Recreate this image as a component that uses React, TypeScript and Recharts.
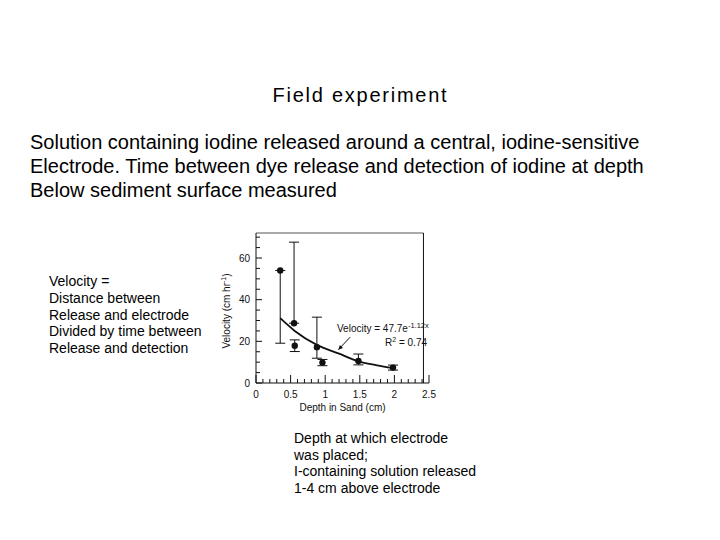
import React from "react";
import {
  ComposedChart,
  Scatter,
  Line,
  ErrorBar,
  XAxis,
  YAxis,
  ReferenceLine,
  Label,
} from "recharts";

const DEPTH = [0.35, 0.55, 0.56, 0.88, 0.96, 1.48, 1.98];
const VELOCITY = [54.0, 28.7, 17.9, 17.2, 9.8, 10.6, 7.4];
const ERR_LOW = [34.9, 0, 2.8, 5.3, 1.5, 1.9, 1.2];
const ERR_HIGH = [0, 38.9, 2.8, 14.4, 1.5, 3.3, 1.2];

// fitted curve
const FIT_DEPTH = [0.35, 0.56, 0.88, 1.19, 1.48, 1.75, 1.98];
const FIT_VELOCITY = [31.1, 25.0, 18.3, 14.2, 10.4, 8.5, 7.1];

const X_LABELS = [0, 0.5, 1, 1.5, 2, 2.5];
const Y_LABELS = [0, 20, 40, 60];
const X_TICKS = Array.from({ length: 26 }, (_, i) => i / 10);
const Y_TICKS = Array.from({ length: 15 }, (_, i) => i * 5);

const INK = "#111";
const FONT = '"Liberation Sans", Arial, Helvetica, sans-serif';

const points = DEPTH.map((x, i) => ({
  x,
  y: VELOCITY[i],
  err: [ERR_LOW[i], ERR_HIGH[i]],
}));
const fit = FIT_DEPTH.map((x, i) => ({ x, y: FIT_VELOCITY[i] }));

function XTick({ x, y, payload }: any) {
  const v = payload.value;
  const major = Math.round(v * 10) % 5 === 0;
  const showLabel = X_LABELS.some((l) => Math.abs(l - v) < 1e-6);
  return (
    <g>
      <line x1={x} x2={x} y1={y} y2={y - (major ? 8 : 4)} stroke={INK} />
      {showLabel && (
        <text x={x} y={y + 14.5} textAnchor="middle" fontSize={10} fill={INK} fontFamily={FONT}>
          {String(Math.round(v * 10) / 10)}
        </text>
      )}
    </g>
  );
}

function YTick({ x, y, payload }: any) {
  const v = payload.value;
  const showLabel = Y_LABELS.includes(v);
  return (
    <g>
      <line x1={x} x2={x + (showLabel ? 6 : 4)} y1={y} y2={y} stroke={INK} />
      {showLabel && (
        <text x={x - 6} y={y + 3.5} textAnchor="end" fontSize={10} fill={INK} fontFamily={FONT}>
          {v}
        </text>
      )}
    </g>
  );
}

function Arrow({ x1, y1, x2, y2 }: any) {
  if (x1 == null) return null;
  const a = Math.atan2(y2 - y1, x2 - x1);
  const len = 5;
  const p1 = [x2 - len * Math.cos(a - 0.45), y2 - len * Math.sin(a - 0.45)];
  const p2 = [x2 - len * Math.cos(a + 0.45), y2 - len * Math.sin(a + 0.45)];
  return (
    <g>
      <line x1={x1} y1={y1} x2={x2} y2={y2} stroke={INK} strokeWidth={1} />
      <polygon points={`${x2},${y2} ${p1[0]},${p1[1]} ${p2[0]},${p2[1]}`} fill={INK} />
    </g>
  );
}

function Dot({ cx, cy }: any) {
  return <circle cx={cx} cy={cy} r={3.2} fill={INK} />;
}

function Chart() {
  return (
    <ComposedChart
      width={241}
      height={204}
      margin={{ top: 12, right: 12, left: 16, bottom: 12 }}
    >
      <XAxis
        type="number"
        dataKey="x"
        domain={[0, 2.5]}
        ticks={X_TICKS}
        interval={0}
        allowDataOverflow
        tickSize={0}
        tickMargin={0}
        tickLine={false}
        tick={<XTick />}
        stroke={INK}
        height={30}
      >
        <Label
          value="Depth in Sand (cm)"
          position="insideBottom"
          offset={2}
          fontSize={10}
          fill={INK}
          fontFamily={FONT}
        />
      </XAxis>
      <YAxis
        type="number"
        domain={[0, 72]}
        ticks={Y_TICKS}
        interval={0}
        allowDataOverflow
        tickSize={0}
        tickMargin={0}
        tickLine={false}
        tick={<YTick />}
        stroke={INK}
        width={40}
      >
        <Label
          content={({ viewBox }: any) => {
            const cx = viewBox.x + 14;
            const cy = viewBox.y + viewBox.height / 2 + 3;
            return (
              <text
                x={cx}
                y={cy}
                transform={`rotate(-90 ${cx} ${cy})`}
                textAnchor="middle"
                fontSize={10}
                fill={INK}
                fontFamily={FONT}
              >
                Velocity (cm hr
                <tspan dy={-4} fontSize={7}>-1</tspan>
                <tspan dy={4}>)</tspan>
              </text>
            );
          }}
        />
      </YAxis>
      <ReferenceLine
        segment={[{ x: 0, y: 72 }, { x: 2.42, y: 72 }]}
        stroke="#555"
        ifOverflow="visible"
      />
      <ReferenceLine
        segment={[{ x: 2.42, y: 0 }, { x: 2.42, y: 72 }]}
        stroke={INK}
        ifOverflow="visible"
      />
      <ReferenceLine
        segment={[{ x: 1.36, y: 22 }, { x: 1.19, y: 16 }]}
        shape={<Arrow />}
        ifOverflow="visible"
      />
      <Line
        data={fit}
        dataKey="y"
        type="monotone"
        stroke={INK}
        strokeWidth={1.8}
        dot={false}
        isAnimationActive={false}
      />
      <Scatter data={points} dataKey="y" shape={<Dot />} isAnimationActive={false}>
        <ErrorBar dataKey="err" direction="y" width={5} stroke={INK} strokeWidth={1} isAnimationActive={false} />
      </Scatter>
    </ComposedChart>
  );
}

export default function App() {
  return (
    <div
      style={{
        position: "absolute",
        left: 0,
        top: 0,
        width: 720,
        height: 540,
        background: "#fff",
        fontFamily: FONT,
        color: "#000",
      }}
    >
      <div style={{ position: "absolute", left: 272.5, top: 83, fontSize: 20, lineHeight: "24px", letterSpacing: 1.75, whiteSpace: "nowrap" }}>
        Field experiment
      </div>
      <div style={{ position: "absolute", left: 30, top: 130, width: 690, fontSize: 20, lineHeight: "24px", whiteSpace: "nowrap" }}>
        Solution containing iodine released around a central, iodine-sensitive
        <br />
        Electrode. Time between dye release and detection of iodine at depth
        <br />
        Below sediment surface measured
      </div>
      <div style={{ position: "absolute", left: 49, top: 273, fontSize: 14, lineHeight: "16.8px", whiteSpace: "nowrap" }}>
        Velocity =<br />
        Distance between<br />
        Release and electrode<br />
        Divided by time between<br />
        Release and detection
      </div>
      <div style={{ position: "absolute", left: 200, top: 221 }}>
        <Chart />
      </div>
      <div style={{ position: "absolute", left: 337, top: 320, fontSize: 10, lineHeight: "12px", whiteSpace: "nowrap", color: INK }}>
        Velocity = 47.7e<span style={{ fontSize: 7.5, verticalAlign: 4 }}>-1.12x</span>
      </div>
      <div style={{ position: "absolute", left: 385, top: 334, fontSize: 10, lineHeight: "12px", whiteSpace: "nowrap", color: INK }}>
        R<span style={{ fontSize: 7, verticalAlign: 4 }}>2</span> = 0.74
      </div>
      <div style={{ position: "absolute", left: 294, top: 430, fontSize: 14, lineHeight: "16.7px", whiteSpace: "nowrap" }}>
        Depth at which electrode<br />
        was placed;<br />
        I-containing solution released<br />
        1-4 cm above electrode
      </div>
    </div>
  );
}
